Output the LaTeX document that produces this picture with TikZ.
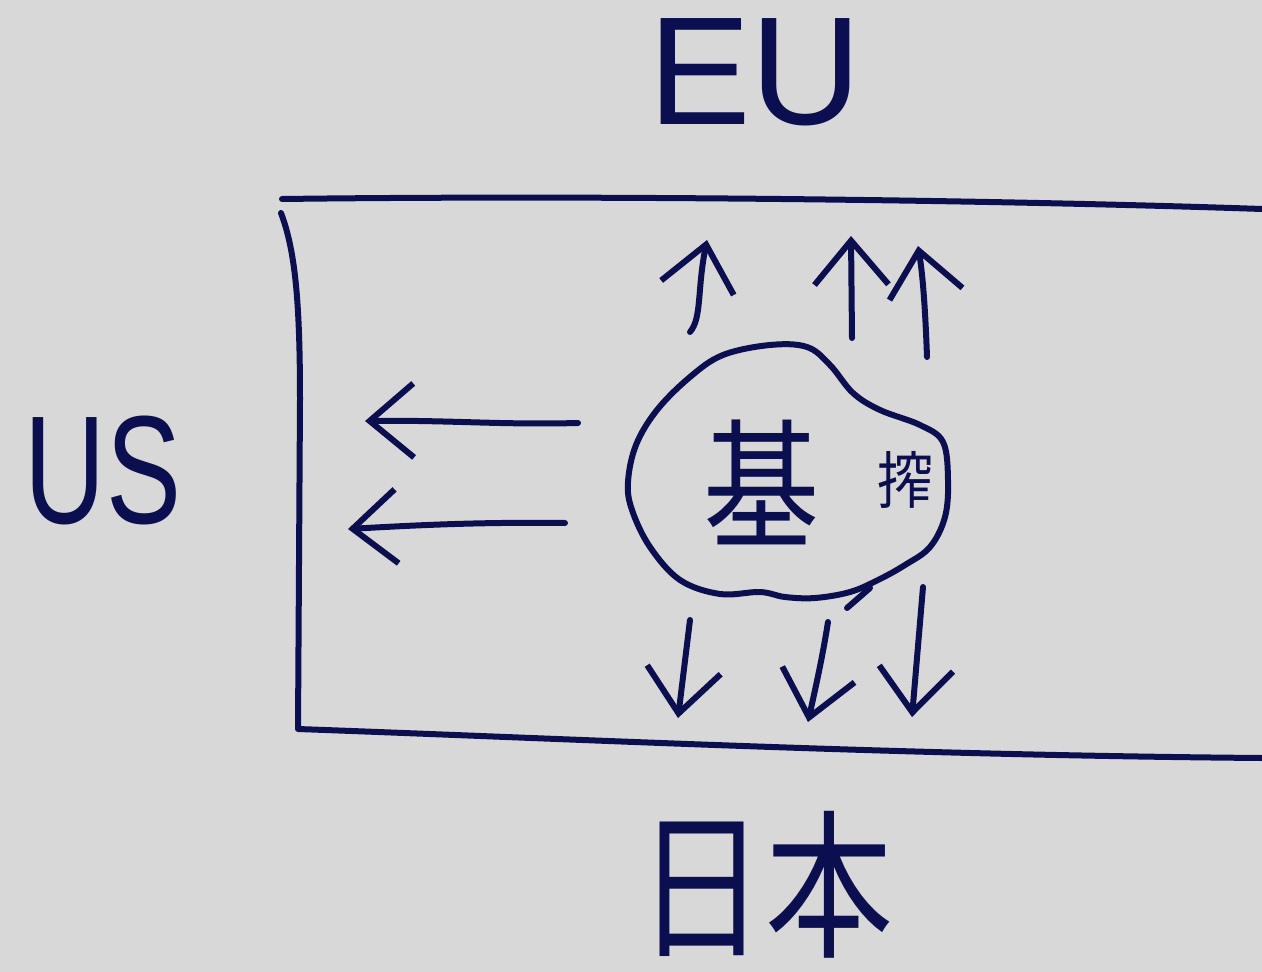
\documentclass[tikz,border=0pt]{standalone}
\usepackage{fontspec}
\setmainfont{Liberation Sans}
\newfontfamily\jpfont{Noto Sans CJK JP}
\usetikzlibrary{arrows.meta}
\definecolor{ink}{HTML}{0B0F4F}
\definecolor{paper}{HTML}{D8D8D8}
\begin{document}
\begin{tikzpicture}[x=1pt,y=-1pt,
  inkline/.style={draw=ink,line width=6pt,line cap=round,line join=round},
  arr/.style={inkline,-{Straight Barb[length=44pt,width=74pt]}},
  label/.style={text=ink,inner sep=0pt}]
\fill[paper] (0,0) rectangle (1262,972);
\useasboundingbox (0,0) rectangle (1262,972);
% frame (open on the right)
\draw[inkline] (282,199) .. controls (600,195) and (1000,200) .. (1262,209);
\draw[inkline] (281,213) .. controls (295,250) and (300,300) .. (300,400) -- (298,729)
  .. controls (600,740) and (900,755) .. (1262,758);
% blob
\draw[inkline] plot[smooth cycle, tension=0.6] coordinates {
 (628,482) (636,445) (657,410) (690,377) (723,355) (770,345) (807,347) (830,365)
 (853,393) (880,410) (920,425) (943,442) (948,480) (945,517) (930,547) (905,565)
 (878,580) (850,592) (815,598) (785,597) (760,592) (720,594) (680,580) (650,547) (632,510)};
\draw[inkline] (847,608) -- (870,588);
% labels
\node[label,font=\fontsize{154}{154}\selectfont] (eu) at (755,72) {EU};
\node[label,font=\fontsize{154}{154}\selectfont] (us) at (103,470) {\scalebox{0.73}[1]{US}};
\node[label,font=\jpfont\fontsize{160}{160}\selectfont] (jp) at (765,885) {\scalebox{0.8}[1]{日本}};
\node[label,font=\jpfont\fontsize{140}{140}\selectfont] (ki) at (762,482) {\scalebox{0.83}[1]{基}};
\node[label,font=\jpfont\fontsize{62}{62}\selectfont] (sa) at (905,480) {\scalebox{0.9}[1]{搾}};
% arrows towards US
\draw[arr] (578,423) .. controls (500,425) and (450,420) .. (365,421);
\draw[arr] (565,523) .. controls (480,522) and (420,525) .. (348,529);
% arrows towards EU
\draw[arr] (690,332) .. controls (702,318) and (697,290) .. (707,240);
\draw[arr] (852,338) -- (851,236);
\draw[arr] (927,357) .. controls (925,300) and (922,270) .. (918,246);
% arrows towards Japan
\draw[arr] (690,620) -- (678,718);
\draw[arr] (828,622) .. controls (822,660) and (815,690) .. (808,722);
\draw[arr] (923,587) -- (912,717);
\end{tikzpicture}
\end{document}
